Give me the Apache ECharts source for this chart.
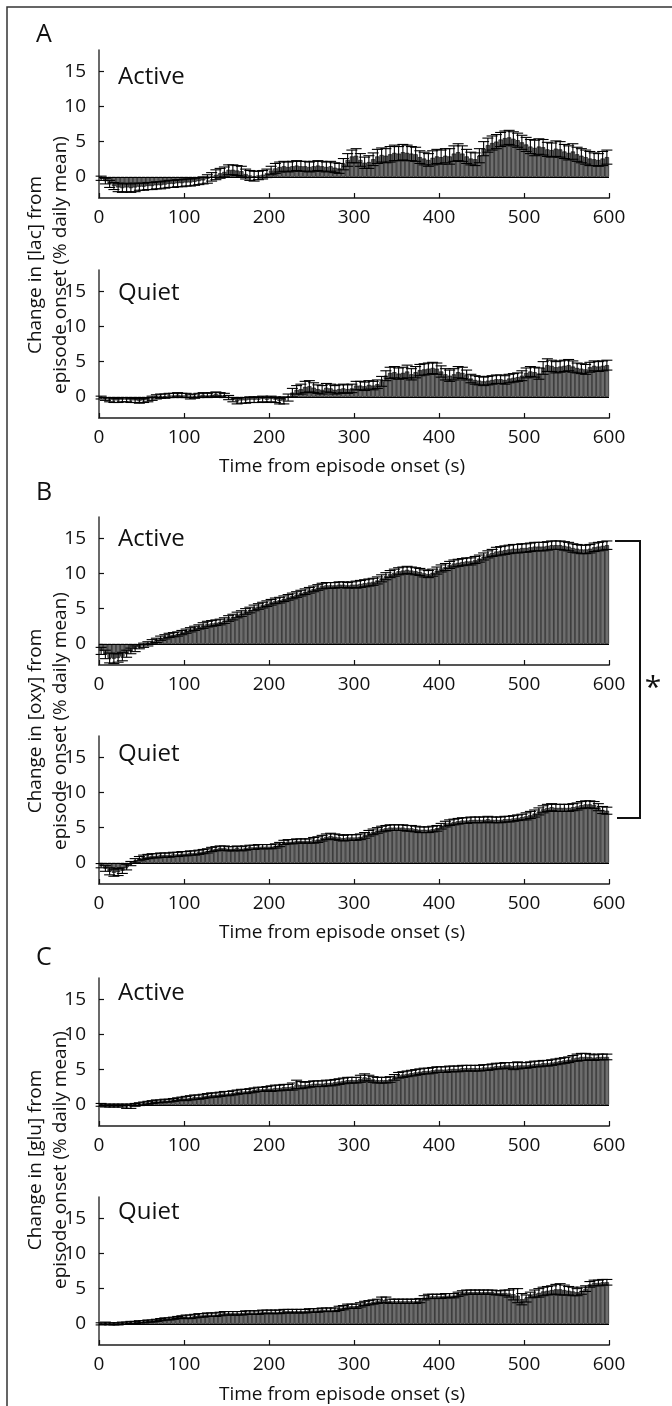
<!DOCTYPE html>
<html>
<head>
<meta charset="utf-8">
<script src="https://cdn.jsdelivr.net/npm/echarts@6/dist/echarts.min.js"></script>
<style>
html,body{margin:0;padding:0;background:#fff;}
#chart{width:672px;height:1406px;}
</style>
</head>
<body>
<div id="chart"></div>
<script>
// ---- DATA ----
// bin centres (s), 5-s bins from 0 to 600
const binStart = 0, binSize = 5, binCount = 120;
const timeBins = Array.from({length: binCount}, (_, i) => binStart + binSize * (i + 0.5));
const xTicks = [0, 100, 200, 300, 400, 500, 600];
const yTicks = [0, 5, 10, 15];

const lacActive = [
 -0.2,-0.6,-1.0,-1.3,-1.5,-1.6,-1.5,-1.6,-1.5,-1.4,
 -1.4,-1.3,-1.3,-1.2,-1.2,-1.1,-1.0,-1.0,-0.9,-0.9,
 -0.8,-0.8,-0.7,-0.6,-0.5,-0.3,0.0,0.3,0.5,0.7,
 1.0,1.0,0.9,0.8,0.4,0.2,0.1,0.2,0.3,0.5,
 0.9,1.2,1.4,1.5,1.4,1.5,1.6,1.5,1.5,1.4,
 1.5,1.6,1.5,1.4,1.5,1.3,1.2,1.8,2.4,2.9,
 3.0,2.4,2.0,2.1,2.5,2.9,3.1,3.0,3.2,3.4,
 3.3,3.5,3.4,3.3,3.2,2.8,2.6,2.4,2.7,2.9,
 2.8,3.0,2.9,3.3,3.5,3.3,2.9,2.6,2.5,3.0,
 4.0,4.5,4.8,5.0,5.3,5.5,5.6,5.4,5.2,4.9,
 4.6,4.3,4.1,4.3,4.2,3.9,3.8,4.0,3.9,3.6,
 3.4,3.6,3.2,3.0,2.8,2.6,2.5,2.4,2.6,2.8];
const lacActiveErr = [
 0.3,0.4,0.5,0.5,0.6,0.6,0.6,0.6,0.6,0.5,
 0.5,0.5,0.5,0.5,0.5,0.5,0.5,0.5,0.5,0.5,
 0.5,0.5,0.5,0.5,0.5,0.6,0.6,0.7,0.7,0.7,
 0.7,0.7,0.7,0.7,0.7,0.7,0.7,0.6,0.6,0.6,
 0.6,0.7,0.7,0.7,0.7,0.7,0.7,0.7,0.7,0.7,
 0.7,0.7,0.7,0.7,0.7,0.7,0.7,0.8,0.9,0.9,
 1.0,0.9,0.8,0.9,0.9,1.0,1.0,1.0,1.1,1.1,
 1.0,1.1,1.1,1.0,1.0,0.9,0.9,0.9,1.0,1.0,
 1.0,1.0,1.1,1.1,1.2,1.1,1.0,0.9,0.9,1.0,
 1.0,1.0,1.0,1.0,1.0,1.0,1.0,1.0,1.0,1.0,
 1.0,1.0,1.1,1.1,1.1,1.0,1.0,1.1,1.1,1.0,
 1.0,1.1,1.0,1.0,1.0,1.0,0.9,0.9,1.0,1.0];

const lacQuiet = [
 -0.1,-0.3,-0.4,-0.5,-0.5,-0.4,-0.4,-0.5,-0.5,-0.6,
 -0.5,-0.4,-0.2,0.0,0.1,0.1,0.2,0.2,0.3,0.2,
 0.2,0.0,0.1,0.2,0.3,0.2,0.3,0.4,0.3,0.2,
 -0.1,-0.4,-0.6,-0.5,-0.5,-0.4,-0.4,-0.4,-0.3,-0.4,
 -0.3,-0.4,-0.6,-0.5,-0.1,0.6,1.0,1.1,1.4,1.5,
 1.3,1.1,1.0,1.3,1.2,1.0,1.1,1.2,1.1,1.2,
 1.6,1.6,1.5,1.7,1.6,1.8,2.2,3.0,3.4,3.5,
 3.3,3.4,3.6,3.2,3.5,3.8,3.9,4.0,4.1,4.0,
 3.6,3.2,3.0,3.2,3.5,3.4,3.1,2.6,2.4,2.3,
 2.2,2.3,2.4,2.5,2.5,2.4,2.6,2.7,2.8,3.0,
 3.4,3.6,3.5,3.3,4.1,4.5,4.4,4.2,4.3,4.4,
 4.5,4.3,4.1,4.0,3.9,4.2,4.4,4.3,4.4,4.5];
const lacQuietErr = [
 0.2,0.2,0.3,0.3,0.3,0.3,0.3,0.3,0.3,0.3,
 0.3,0.3,0.3,0.3,0.3,0.3,0.3,0.3,0.3,0.3,
 0.3,0.3,0.3,0.3,0.3,0.3,0.3,0.3,0.3,0.3,
 0.3,0.3,0.4,0.4,0.4,0.4,0.4,0.4,0.4,0.4,
 0.4,0.4,0.4,0.5,0.5,0.6,0.6,0.7,0.8,0.8,
 0.7,0.6,0.6,0.6,0.6,0.6,0.6,0.6,0.6,0.6,
 0.6,0.6,0.6,0.6,0.6,0.6,0.7,0.7,0.8,0.8,
 0.8,0.8,0.9,0.8,0.8,0.8,0.8,0.8,0.8,0.8,
 0.8,0.8,0.8,0.8,0.8,0.8,0.7,0.6,0.6,0.6,
 0.6,0.6,0.6,0.6,0.6,0.6,0.6,0.6,0.6,0.7,
 0.7,0.7,0.7,0.8,0.9,0.9,0.8,0.8,0.8,0.8,
 0.8,0.8,0.7,0.7,0.7,0.7,0.7,0.7,0.7,0.7];

const oxyActive = [
 -1.0,-1.5,-2.0,-2.1,-2.0,-1.8,-1.4,-1.0,-0.7,-0.4,
 -0.2,0.0,0.3,0.5,0.8,1.0,1.2,1.3,1.4,1.6,
 1.8,2.0,2.2,2.4,2.6,2.8,2.9,3.0,3.1,3.3,
 3.6,3.8,4.1,4.3,4.6,4.8,5.1,5.3,5.5,5.7,
 5.9,6.1,6.2,6.4,6.6,6.8,7.0,7.2,7.4,7.6,
 7.8,8.0,8.2,8.3,8.3,8.3,8.4,8.4,8.3,8.4,
 8.4,8.5,8.6,8.7,8.8,9.0,9.3,9.6,9.9,10.1,
 10.3,10.4,10.5,10.4,10.3,10.2,10.0,9.9,10.1,10.4,
 10.7,10.9,11.2,11.4,11.5,11.6,11.7,11.7,11.9,12.1,
 12.4,12.7,12.9,13.1,13.2,13.3,13.4,13.5,13.5,13.6,
 13.6,13.7,13.8,13.8,13.8,13.9,14.0,14.0,14.0,13.9,
 13.8,13.6,13.5,13.4,13.4,13.5,13.7,13.8,13.9,14.0];
const oxyActiveErr = [
 0.5,0.6,0.7,0.7,0.6,0.6,0.5,0.4,0.4,0.3,
 0.3,0.3,0.3,0.3,0.3,0.3,0.3,0.3,0.3,0.3,
 0.3,0.3,0.3,0.3,0.4,0.4,0.4,0.4,0.4,0.4,
 0.4,0.4,0.4,0.4,0.4,0.4,0.4,0.4,0.4,0.4,
 0.4,0.4,0.4,0.4,0.4,0.4,0.4,0.4,0.4,0.4,
 0.4,0.4,0.4,0.4,0.4,0.4,0.4,0.4,0.4,0.4,
 0.5,0.5,0.5,0.5,0.5,0.5,0.5,0.5,0.5,0.5,
 0.5,0.5,0.5,0.5,0.5,0.5,0.5,0.5,0.5,0.5,
 0.5,0.5,0.5,0.5,0.5,0.5,0.5,0.5,0.5,0.5,
 0.5,0.5,0.5,0.6,0.6,0.6,0.6,0.6,0.6,0.6,
 0.6,0.6,0.6,0.6,0.6,0.6,0.6,0.6,0.6,0.6,
 0.6,0.6,0.6,0.6,0.6,0.6,0.6,0.6,0.6,0.6];

const oxyQuiet = [
 -0.4,-0.8,-1.2,-1.4,-1.3,-1.1,-0.6,-0.1,0.3,0.6,
 0.8,0.9,1.0,1.0,1.1,1.1,1.1,1.2,1.2,1.3,
 1.3,1.4,1.4,1.5,1.6,1.7,1.9,2.0,2.1,2.1,
 2.0,2.0,2.1,2.0,2.1,2.2,2.2,2.3,2.3,2.3,
 2.3,2.4,2.6,2.9,3.0,3.0,3.1,3.1,3.1,3.1,
 3.2,3.3,3.5,3.7,3.8,3.7,3.6,3.5,3.6,3.6,
 3.6,3.7,3.9,4.2,4.4,4.6,4.8,4.9,5.0,5.0,
 5.0,5.0,4.9,4.9,4.8,4.7,4.7,4.7,4.8,4.9,
 5.2,5.5,5.7,5.8,5.9,6.0,6.0,6.1,6.1,6.1,
 6.1,6.2,6.1,6.1,6.1,6.2,6.2,6.3,6.4,6.5,
 6.6,6.8,7.0,7.3,7.6,7.8,7.9,7.8,7.8,7.8,
 7.8,7.9,8.0,8.2,8.3,8.3,8.2,7.9,7.5,7.4];
const oxyQuietErr = [
 0.3,0.4,0.5,0.5,0.5,0.4,0.4,0.3,0.3,0.3,
 0.3,0.3,0.3,0.3,0.3,0.3,0.3,0.3,0.3,0.3,
 0.3,0.3,0.3,0.3,0.3,0.3,0.3,0.3,0.3,0.3,
 0.3,0.3,0.3,0.3,0.3,0.3,0.3,0.3,0.3,0.3,
 0.3,0.3,0.3,0.3,0.3,0.3,0.3,0.3,0.3,0.3,
 0.4,0.4,0.4,0.4,0.4,0.4,0.4,0.4,0.4,0.4,
 0.4,0.4,0.4,0.4,0.4,0.4,0.4,0.4,0.4,0.4,
 0.4,0.4,0.4,0.4,0.4,0.4,0.4,0.4,0.4,0.4,
 0.4,0.4,0.4,0.4,0.4,0.4,0.4,0.4,0.4,0.4,
 0.4,0.4,0.4,0.4,0.4,0.4,0.4,0.4,0.4,0.4,
 0.5,0.5,0.5,0.5,0.5,0.5,0.5,0.5,0.5,0.5,
 0.5,0.5,0.5,0.5,0.5,0.5,0.5,0.5,0.5,0.5];

const gluActive = [
 0.0,-0.1,-0.1,-0.1,-0.1,-0.1,-0.2,-0.2,0.0,0.1,
 0.2,0.3,0.4,0.5,0.5,0.6,0.6,0.7,0.8,0.9,
 0.9,1.0,1.1,1.1,1.2,1.3,1.4,1.4,1.5,1.6,
 1.6,1.7,1.8,1.9,1.9,2.0,2.1,2.2,2.2,2.3,
 2.3,2.4,2.4,2.5,2.5,2.6,2.9,2.8,2.8,2.9,
 3.0,3.0,3.0,3.1,3.1,3.2,3.3,3.4,3.5,3.5,
 3.5,3.7,3.9,3.8,3.6,3.5,3.5,3.5,3.6,3.9,
 4.2,4.3,4.4,4.5,4.6,4.7,4.8,4.8,4.9,5.0,
 5.0,5.0,5.1,5.1,5.1,5.2,5.2,5.2,5.2,5.2,
 5.3,5.3,5.4,5.5,5.5,5.6,5.6,5.5,5.6,5.6,
 5.6,5.7,5.8,5.8,5.9,5.9,6.0,6.1,6.2,6.3,
 6.4,6.6,6.7,6.8,6.8,6.8,6.7,6.8,6.8,6.8];
const gluActiveErr = [
 0.2,0.2,0.2,0.2,0.2,0.2,0.3,0.3,0.2,0.2,
 0.2,0.2,0.2,0.2,0.2,0.2,0.2,0.2,0.2,0.2,
 0.3,0.3,0.3,0.3,0.3,0.3,0.3,0.3,0.3,0.3,
 0.3,0.3,0.3,0.3,0.3,0.3,0.3,0.3,0.3,0.3,
 0.4,0.4,0.4,0.4,0.4,0.5,0.6,0.5,0.4,0.4,
 0.4,0.4,0.4,0.4,0.4,0.4,0.4,0.4,0.4,0.4,
 0.4,0.5,0.5,0.4,0.4,0.4,0.4,0.4,0.4,0.4,
 0.4,0.4,0.4,0.4,0.4,0.4,0.4,0.4,0.4,0.4,
 0.4,0.4,0.4,0.4,0.4,0.4,0.4,0.4,0.4,0.4,
 0.4,0.4,0.4,0.4,0.4,0.4,0.4,0.5,0.5,0.4,
 0.4,0.4,0.4,0.4,0.4,0.4,0.4,0.4,0.4,0.4,
 0.4,0.4,0.5,0.5,0.5,0.4,0.4,0.4,0.4,0.4];

const gluQuiet = [
 0.0,0.1,0.0,0.0,0.0,0.1,0.1,0.2,0.2,0.3,
 0.3,0.4,0.4,0.5,0.6,0.7,0.7,0.8,0.9,1.0,
 1.0,1.0,1.1,1.2,1.2,1.3,1.3,1.3,1.4,1.5,
 1.5,1.5,1.5,1.5,1.6,1.6,1.6,1.6,1.7,1.7,
 1.7,1.7,1.7,1.8,1.8,1.8,1.8,1.8,1.8,1.9,
 1.9,1.9,2.0,2.0,2.0,2.0,2.2,2.3,2.5,2.5,
 2.5,2.7,2.9,3.0,3.1,3.2,3.4,3.4,3.2,3.2,
 3.2,3.2,3.2,3.2,3.2,3.3,3.7,3.9,3.9,3.9,
 3.9,4.0,4.0,4.0,4.2,4.4,4.5,4.5,4.5,4.5,
 4.5,4.5,4.5,4.4,4.4,4.4,4.3,4.2,4.0,3.5,
 3.6,4.1,4.3,4.4,4.6,4.7,4.8,4.9,4.9,4.8,
 4.7,4.6,4.5,4.7,5.0,5.6,5.8,5.8,5.9,5.9];
const gluQuietErr = [
 0.15,0.15,0.15,0.15,0.15,0.15,0.15,0.15,0.15,0.15,
 0.15,0.15,0.15,0.15,0.15,0.15,0.15,0.15,0.15,0.15,
 0.25,0.25,0.25,0.25,0.25,0.25,0.25,0.25,0.25,0.25,
 0.25,0.25,0.25,0.25,0.25,0.25,0.25,0.25,0.25,0.25,
 0.25,0.25,0.25,0.25,0.25,0.25,0.25,0.25,0.25,0.25,
 0.25,0.25,0.25,0.25,0.25,0.25,0.3,0.3,0.3,0.3,
 0.3,0.3,0.3,0.3,0.3,0.3,0.4,0.4,0.3,0.3,
 0.3,0.3,0.3,0.3,0.3,0.3,0.3,0.3,0.3,0.3,
 0.3,0.3,0.3,0.3,0.3,0.3,0.3,0.3,0.3,0.3,
 0.3,0.3,0.3,0.3,0.3,0.4,0.5,0.8,1.0,0.8,
 0.5,0.4,0.5,0.6,0.6,0.6,0.6,0.7,0.8,0.7,
 0.6,0.6,0.5,0.5,0.4,0.4,0.4,0.4,0.4,0.4];

const panelValues = [lacActive, lacQuiet, oxyActive, oxyQuiet, gluActive, gluQuiet];
const panelErrors = [lacActiveErr, lacQuietErr, oxyActiveErr, oxyQuietErr, gluActiveErr, gluQuietErr];
const panelTitles = ['Active', 'Quiet', 'Active', 'Quiet', 'Active', 'Quiet'];
const panelLetters = ['A', 'B', 'C'];
const yAxisTitles = ['Change in [lac] from\nepisode onset (% daily mean)',
                     'Change in [oxy] from\nepisode onset (% daily mean)',
                     'Change in [glu] from\nepisode onset (% daily mean)'];
const xAxisTitle = 'Time from episode onset (s)';
const significance = '*';

// ---- LAYOUT ----
const FONT = "'Open Sans', 'Noto Sans', sans-serif";
const gridLeft = 99, gridWidth = 510, gridHeight = 148;
const gridTops = [50, 270, 517, 736, 978, 1197];
const titleY = [77, 293, 539, 754, 993, 1212];
const letterY = [35, 493, 958];
const yTitleY = [265, 721, 1160];
const xTitleY = [467, 933, 1395];
const TXT = '#111';

const grids = [], xAxes = [], yAxes = [], series = [];
gridTops.forEach((top, i) => {
  grids.push({left: gridLeft, top: top, width: gridWidth, height: gridHeight});
  xAxes.push({
    type: 'value', gridIndex: i, min: 0, max: 600, interval: 100,
    axisLine: {show: true, onZero: false, lineStyle: {color: '#555', width: 2}},
    axisTick: {show: true, inside: true, length: 5, lineStyle: {color: '#111', width: 1.2}},
    axisLabel: {color: TXT, fontSize: 19, fontFamily: FONT, margin: 10},
    splitLine: {show: false}
  });
  yAxes.push({
    type: 'value', gridIndex: i, min: -3, max: 18,
    axisLine: {show: true, onZero: false, lineStyle: {color: '#444', width: 1.6}},
    axisTick: {show: true, inside: true, length: 5, customValues: yTicks, lineStyle: {color: '#111', width: 1.2}},
    axisLabel: {color: TXT, fontSize: 19, fontFamily: FONT, margin: 13, customValues: yTicks},
    splitLine: {show: false}
  });
  const vals = panelValues[i], errs = panelErrors[i];
  series.push({
    type: 'bar', xAxisIndex: i, yAxisIndex: i,
    data: timeBins.map((t, j) => [t, vals[j]]),
    barWidth: gridWidth / binCount,
    itemStyle: {color: '#6e6e6e', borderColor: '#000', borderWidth: 0.6},
    silent: true, z: 2,
    markLine: {silent: true, symbol: 'none', label: {show: false},
      lineStyle: {color: '#000', width: 1.2, type: 'solid'}, data: [{yAxis: 0}]}
  });
  series.push({
    type: 'custom', xAxisIndex: i, yAxisIndex: i, z: 3, silent: true,
    data: timeBins.map((t, j) => [t, vals[j], errs[j]]),
    encode: {x: 0, y: 1},
    renderItem: function (params, api) {
      const x = api.value(0), y = api.value(1), e = api.value(2);
      const top = api.coord([x, y + e]);
      const bot = api.coord([x, y - e]);
      const hw = 5.5;
      const st = {stroke: '#000', lineWidth: 1.1};
      return {type: 'group', children: [
        {type: 'line', shape: {x1: top[0], y1: top[1], x2: bot[0], y2: bot[1]}, style: st},
        {type: 'line', shape: {x1: top[0] - hw, y1: top[1], x2: top[0] + hw, y2: top[1]}, style: st},
        {type: 'line', shape: {x1: bot[0] - hw, y1: bot[1], x2: bot[0] + hw, y2: bot[1]}, style: st}
      ]};
    }
  });
});

const graphics = [];
// outer frame
graphics.push({type: 'polyline', shape: {points: [[7, 1406], [7, 7], [672, 7]]},
  style: {stroke: '#333', lineWidth: 1.5, fill: null}});
panelLetters.forEach((L, k) => {
  graphics.push({type: 'text', x: 36, y: letterY[k],
    style: {text: L, font: '25px ' + FONT, fill: TXT, textAlign: 'left', textVerticalAlign: 'middle'}});
  graphics.push({type: 'text', x: 48, y: yTitleY[k], rotation: Math.PI / 2,
    style: {text: yAxisTitles[k], font: '19px ' + FONT, fill: TXT, textAlign: 'center',
      textVerticalAlign: 'middle', lineHeight: 25}});
  graphics.push({type: 'text', x: 342, y: xTitleY[k],
    style: {text: xAxisTitle, font: '19px ' + FONT, fill: TXT, textAlign: 'center', textVerticalAlign: 'middle'}});
});
panelTitles.forEach((T, i) => {
  graphics.push({type: 'text', x: 118, y: titleY[i],
    style: {text: T, font: '24px ' + FONT, fill: TXT, textAlign: 'left', textVerticalAlign: 'middle'}});
});
// significance bracket between B Active and B Quiet
graphics.push({type: 'polyline', shape: {points: [[615, 541], [640, 541], [640, 818], [617, 818]]},
  style: {stroke: '#111', lineWidth: 2, fill: null}});
graphics.push({type: 'text', x: 653, y: 688,
  style: {text: significance, font: '30px ' + FONT, fill: TXT, textAlign: 'center', textVerticalAlign: 'middle'}});

const chart = echarts.init(document.getElementById('chart'), null, {renderer: 'canvas'});
chart.setOption({
  animation: false,
  backgroundColor: '#fff',
  grid: grids, xAxis: xAxes, yAxis: yAxes, series: series,
  graphic: graphics
});
</script>
</body>
</html>
